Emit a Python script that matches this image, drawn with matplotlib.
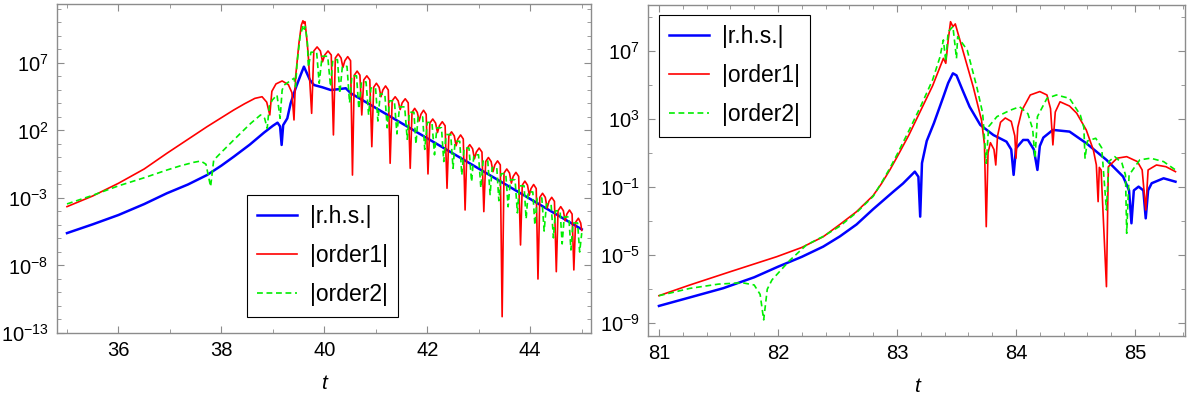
import numpy as np
import matplotlib
matplotlib.use('Agg')
import matplotlib.pyplot as plt
from matplotlib.ticker import FixedLocator, MultipleLocator, LogFormatterMathtext, NullFormatter

plt.rcParams['font.family'] = ['Liberation Sans', 'DejaVu Sans']
plt.rcParams['mathtext.fontset'] = 'custom'
plt.rcParams['mathtext.rm'] = 'Liberation Sans'
plt.rcParams['mathtext.it'] = 'Liberation Sans:italic'

# ---------------- left panel data (t, log10 of value) ----------------
t_rhs_L = [35.0, 35.5, 36.0, 36.5, 36.94, 37.35, 37.72, 38.0, 38.24, 38.55, 38.83,
           39.0, 39.09, 39.14, 39.17, 39.2, 39.28,
           39.344, 39.442, 39.539, 39.603, 39.72, 39.798, 39.962, 40.123, 40.254,
           40.416, 40.513, 42.0, 43.5, 45.0]
lg_rhs_L = [-5.6, -4.95, -4.26, -3.45, -2.65, -2.0, -1.3, -0.6, 0.06, 0.95, 1.85,
            2.35, 2.58, 2.3, 0.93, 2.4, 2.9,
            4.0, 5.13, 6.11, 6.73, 5.74, 5.37, 5.2, 5.0, 5.05,
            5.13, 4.76, 1.42, -1.95, -5.32]

t_o1_L = [35.0, 35.5, 36.0, 36.5, 36.94, 37.3, 37.72, 38.0, 38.24, 38.45, 38.65, 38.79,
          38.88, 38.94, 38.98, 39.06,
          39.18, 39.3, 39.37, 39.41, 39.442, 39.506, 39.553, 39.584, 39.603, 39.623,
          39.655, 39.685, 39.72, 39.753,
          39.795, 39.859, 39.923, 39.965, 40.007, 40.071, 40.134, 40.176,
          40.213, 40.269, 40.324, 40.361, 40.398, 40.454, 40.509, 40.546,
          40.582, 40.637, 40.691, 40.727, 40.766, 40.825, 40.883, 40.922,
          40.958, 41.011, 41.064, 41.1, 41.136, 41.189, 41.242, 41.278,
          41.317, 41.376, 41.434, 41.473, 41.512, 41.571, 41.629, 41.668,
          41.703, 41.755, 41.806, 41.841, 41.876, 41.927, 41.978, 42.013,
          42.05, 42.106, 42.161, 42.198, 42.235, 42.291, 42.346, 42.383,
          42.418, 42.471, 42.524, 42.559, 42.594, 42.647, 42.699, 42.734,
          42.77, 42.825, 42.88, 42.916, 42.952, 43.007, 43.062, 43.098,
          43.134, 43.187, 43.24, 43.276, 43.312, 43.365, 43.418, 43.454,
          43.49, 43.544, 43.597, 43.633, 43.669, 43.722, 43.775, 43.811,
          43.845, 43.896, 43.947, 43.981, 44.015, 44.066, 44.116, 44.15,
          44.186, 44.239, 44.292, 44.328, 44.364, 44.417, 44.47, 44.506,
          44.54, 44.592, 44.643, 44.677, 44.711, 44.762, 44.813, 44.847,
          44.88, 44.935, 44.98, 45.0]
lg_o1_L = [-3.64, -2.85, -1.91, -0.85, 0.31, 1.22, 2.28, 2.95, 3.52, 3.98, 4.38, 4.5,
           4.1, 3.15, 4.9, 5.45,
           5.67, 5.4, 4.8, 2.78, 6.0, 8.46, 9.81, 10.13, 9.94, 10.06,
           8.95, 7.72, 5.5, 3.27,
           7.89, 8.19, 7.89, 7.09, 7.59, 7.89, 7.59, 1.67,
           7.37, 7.67, 7.37, 6.67, 7.17, 7.47, 7.17, -1.3,
           6.1, 6.4, 6.1, 3.15, 5.75, 6.05, 5.75, 0.8,
           5.2, 5.5, 5.2, 4.5, 5.0, 5.3, 5.0, -0.43,
           4.2, 4.5, 4.2, 3.55, 4.05, 4.35, 4.05, -0.8,
           3.34, 3.64, 3.34, 2.7, 3.2, 3.5, 3.2, -1.22,
           2.55, 2.85, 2.55, 1.85, 2.35, 2.65, 2.35, -2.28,
           1.6, 1.9, 1.6, 0.87, 1.37, 1.67, 1.37, -3.89,
           0.65, 0.95, 0.65, -0.1, 0.4, 0.7, 0.4, -4.01,
           -0.3, 0.0, -0.3, -1.05, -0.55, -0.25, -0.55, -11.79,
           -1.15, -0.85, -1.15, -1.9, -1.4, -1.1, -1.4, -6.48,
           -2.05, -1.75, -2.05, -2.8, -2.3, -2.0, -2.3, -9.0,
           -2.95, -2.65, -2.95, -3.75, -3.25, -2.95, -3.25, -8.46,
           -3.94, -3.64, -3.94, -4.69, -4.19, -3.89, -4.19, -8.33,
           -4.8, -4.5, -4.85, -5.4]

t_o2_L = [35.0, 35.5, 36.0, 36.5, 36.94, 37.2, 37.46, 37.6, 37.7, 37.79, 37.85, 37.98,
          38.24, 38.4, 38.57,
          38.76, 38.84, 38.89, 38.93, 38.99, 39.08, 39.14, 39.18, 39.22, 39.41,
          39.44, 39.47, 39.53, 39.59, 39.61, 39.63, 39.67, 39.69,
          39.74, 39.85, 39.90, 39.955, 40.065, 40.12, 40.165, 40.255, 40.30,
          40.35, 40.44, 40.49, 40.535, 40.625, 40.67, 40.72, 40.81, 40.86,
          40.905, 40.995, 41.04, 41.085, 41.175, 41.22, 41.265, 41.36, 41.41,
          41.46, 41.56, 41.61, 41.65, 41.74, 41.78, 41.82, 41.91, 41.95,
          42.0, 42.09, 42.14, 42.185, 42.275, 42.32, 42.365, 42.455, 42.50,
          42.54, 42.63, 42.67, 42.715, 42.81, 42.86, 42.905, 42.995, 43.04,
          43.085, 43.175, 43.22, 43.26, 43.35, 43.39, 43.435, 43.525, 43.57,
          43.615, 43.705, 43.75, 43.79, 43.88, 43.92, 43.96, 44.05, 44.09,
          44.135, 44.225, 44.27, 44.315, 44.405, 44.45, 44.49, 44.58, 44.62,
          44.66, 44.75, 44.79, 44.83, 44.92, 44.96, 45.0]
lg_o2_L = [-3.44, -2.8, -2.1, -1.5, -0.93, -0.62, -0.36, -0.26, -0.5, -2.16, -0.2, 0.31,
           1.3, 1.9, 2.53,
           3.15, 2.9, 2.16, 3.8, 4.26, 4.63, 2.9, 5.0, 5.37, 5.87,
           5.24, 7.0, 9.0, 9.81, 9.5, 9.7, 8.5, 6.7,
           7.8, 7.8, 5.5, 7.5, 7.5, 5.25, 7.25, 7.25, 4.75,
           6.75, 6.75, 4.05, 6.05, 6.05, 3.6, 5.6, 5.6, 3.15,
           5.15, 5.15, 2.7, 4.7, 4.7, 2.2, 4.2, 4.2, 1.75,
           3.75, 3.75, 1.35, 3.35, 3.35, 1.0, 3.0, 3.0, 0.6,
           2.6, 2.6, 0.2, 2.2, 2.2, -0.3, 1.7, 1.7, -0.8,
           1.2, 1.2, -1.3, 0.7, 0.7, -1.8, 0.2, 0.2, -2.25,
           -0.25, -0.25, -2.75, -0.75, -0.75, -3.2, -1.2, -1.2, -3.65,
           -1.65, -1.65, -4.1, -2.1, -2.1, -4.55, -2.55, -2.55, -5.0,
           -3.0, -3.0, -5.45, -3.45, -3.45, -5.95, -3.95, -3.95, -6.4,
           -4.4, -4.4, -6.85, -4.85, -4.85, -7.0, -5.6]

# ---------------- right panel data (t, log10 of value) ----------------
t_rhs_R = [81.0, 81.25, 81.54, 81.8, 82.0, 82.2, 82.38, 82.52, 82.66, 82.8, 82.97,
           83.05, 83.15, 83.18, 83.195, 83.21, 83.25,
           83.31, 83.39, 83.43, 83.47, 83.5, 83.55, 83.61, 83.70, 83.81, 83.92, 83.96,
           83.98, 84.0, 84.06, 84.1, 84.15, 84.18, 84.2, 84.23, 84.31, 84.45, 84.59,
           84.76, 84.9, 84.95, 84.97, 84.99, 85.03, 85.07, 85.09, 85.11, 85.14,
           85.24, 85.34]
lg_rhs_R = [-7.98, -7.5, -6.94, -6.3, -5.68, -5.1, -4.5, -3.9, -3.2, -2.3, -1.27,
            -0.8, -0.1, -0.4, -2.74, 0.4, 1.7,
            2.74, 4.3, 5.1, 5.67, 5.55, 4.7, 3.71, 2.64, 2.05, 1.66, 1.2,
            -0.29, 1.27, 1.76, 1.76, 1.2, 0.0, 1.4, 1.9, 2.35, 2.25, 1.57,
            0.59, -0.39, -1.2, -3.13, -1.2, -0.98, -1.2, -2.84, -1.2, -0.78,
            -0.49, -0.69]

t_o1_R = [81.0, 81.26, 81.6, 81.99, 82.2, 82.38, 82.52, 82.66, 82.8, 82.87, 82.94, 83.0,
          83.1, 83.2, 83.3, 83.39, 83.41, 83.43,
          83.45, 83.47, 83.49, 83.56, 83.64, 83.71, 83.735, 83.75, 83.765, 83.785,
          83.815, 83.83, 83.845, 83.87, 83.91, 83.96, 83.99, 84.0, 84.015, 84.05,
          84.12, 84.2, 84.26, 84.29, 84.31, 84.33, 84.37, 84.45, 84.51, 84.59,
          84.65, 84.675, 84.69, 84.70, 84.715, 84.76, 84.776, 84.85, 84.93, 85.02,
          85.06, 85.09, 85.11, 85.18, 85.26, 85.34]
lg_o1_R = [-7.38, -6.75, -5.97, -5.09, -4.55, -3.92, -3.2, -2.45, -1.5, -0.8, 0.0, 0.75,
           2.05, 3.5, 4.95, 6.55, 6.26, 7.6,
           8.7, 8.41, 8.57, 6.85, 4.89, 2.93, 1.5, -3.33, 1.0, 1.6,
           1.2, 0.29, 2.0, 2.8, 3.05, 2.85, 2.0, 0.69, 2.5, 3.5,
           4.4, 4.6, 4.4, 3.6, 1.47, 3.4, 4.0, 3.75, 3.33, 2.35,
           1.17, 0.3, -1.86, 0.15, 0.0, -6.85, 0.19, 0.69, 0.78, 0.49,
           0.0, -2.35, 0.0, 0.29, 0.19, -0.1]

t_o2_R = [81.0, 81.26, 81.5, 81.7, 81.8, 81.85, 81.88, 81.91, 81.95, 82.1, 82.24,
          82.38, 82.52, 82.66, 82.8, 82.87, 82.94, 83.0, 83.1, 83.2, 83.3, 83.36, 83.39,
          83.41, 83.43, 83.47,
          83.50, 83.51, 83.59, 83.67, 83.72, 83.75, 83.77, 83.84, 83.95, 84.03,
          84.1, 84.14, 84.16, 84.18, 84.26, 84.34, 84.45, 84.54, 84.57, 84.58,
          84.6, 84.67, 84.72, 84.76, 84.78, 84.83, 84.89, 84.92, 84.93, 84.95,
          85.04, 85.13, 85.24, 85.34]
lg_o2_R = [-7.38, -6.95, -6.7, -6.62, -6.75, -7.3, -8.8, -7.0, -6.45, -5.3, -4.4,
           -3.9, -3.3, -2.5, -1.55, -0.75, 0.1, 0.9, 2.3, 3.75, 5.3, 6.6, 7.63,
           6.36, 8.11, 8.41,
           6.55, 7.82, 7.04, 4.89, 3.33, 0.39, 2.54, 3.13, 3.5, 3.71,
           3.3, 2.4, 0.69, 3.13, 4.2, 4.4, 4.2, 3.23, 2.5, 0.69,
           1.7, 1.86, 1.3, -2.35, 0.5, 0.78, 0.4, -0.3, -3.72, -0.3,
           0.59, 0.69, 0.49, 0.0]

labels = ['|r.h.s.|', '|order1|', '|order2|']
yticks_L = [1e-13, 1e-8, 1e-3, 1e2, 1e7]
yticks_R = [1e-9, 1e-5, 1e-1, 1e3, 1e7]

W, H = 1194, 400
fig = plt.figure(figsize=(W / 100, H / 100), dpi=100)
axL = fig.add_axes([56.7 / W, 67 / H, 534.8 / W, 329 / H])
axR = fig.add_axes([648 / W, 64 / H, 537 / W, 331 / H])

frame = '#8c8c8c'


def draw(ax, t1, y1, t2, y2, t3, y3):
    ax.plot(t1, 10 ** np.array(y1), color='#0000ff', lw=1.8, label=labels[0])
    ax.plot(t2, 10 ** np.array(y2), color='#ff0000', lw=1.2, label=labels[1])
    ax.plot(t3, 10 ** np.array(y3), color='#00ee00', lw=1.2, ls=(0, (3.5, 2.2)),
            label=labels[2])
    ax.set_yscale('log')
    for s in ax.spines.values():
        s.set_color(frame)
        s.set_linewidth(1.0)
    ax.tick_params(which='both', direction='in', top=True, right=True,
                   color=frame, labelsize=14.5, pad=6)
    ax.tick_params(which='major', length=5, width=0.8)
    ax.tick_params(which='minor', length=3, width=0.6)
    ax.set_xlabel('t', fontstyle='italic', fontsize=15, labelpad=10)


draw(axL, t_rhs_L, lg_rhs_L, t_o1_L, lg_o1_L, t_o2_L, lg_o2_L)
axL.set_xlim(34.8, 45.19)
axL.set_ylim(1e-13, 10 ** 11.37)
axL.xaxis.set_major_locator(MultipleLocator(2))
axL.xaxis.set_minor_locator(MultipleLocator(1))
axL.yaxis.set_major_locator(FixedLocator(yticks_L))
axL.yaxis.set_minor_locator(FixedLocator([10.0 ** k for k in range(-13, 12)]))
axL.yaxis.set_major_formatter(LogFormatterMathtext())
axL.yaxis.set_minor_formatter(NullFormatter())

draw(axR, t_rhs_R, lg_rhs_R, t_o1_R, lg_o1_R, t_o2_R, lg_o2_R)
axR.set_xlim(80.908, 85.42)
axR.set_ylim(10 ** -9.745, 10 ** 9.68)
axR.xaxis.set_major_locator(MultipleLocator(1))
axR.xaxis.set_minor_locator(MultipleLocator(0.2))
axR.yaxis.set_major_locator(FixedLocator(yticks_R))
axR.yaxis.set_minor_locator(FixedLocator([10.0 ** k for k in range(-9, 10, 2)]))
axR.yaxis.set_major_formatter(LogFormatterMathtext())
axR.yaxis.set_minor_formatter(NullFormatter())

leg_kw = dict(loc='upper left', fontsize=16.5, fancybox=False, edgecolor='black',
              framealpha=1, borderaxespad=0, handlelength=1.75, handletextpad=0.55,
              labelspacing=0.7, borderpad=0.45)
lg = axL.legend(bbox_to_anchor=(246.7 / W, 1 - 195 / H),
                bbox_transform=fig.transFigure, **leg_kw)
lg.get_frame().set_linewidth(0.8)
lg = axR.legend(bbox_to_anchor=(659 / W, 1 - 15 / H),
                bbox_transform=fig.transFigure, **leg_kw)
lg.get_frame().set_linewidth(0.8)

fig.savefig('out.png', dpi=100)
